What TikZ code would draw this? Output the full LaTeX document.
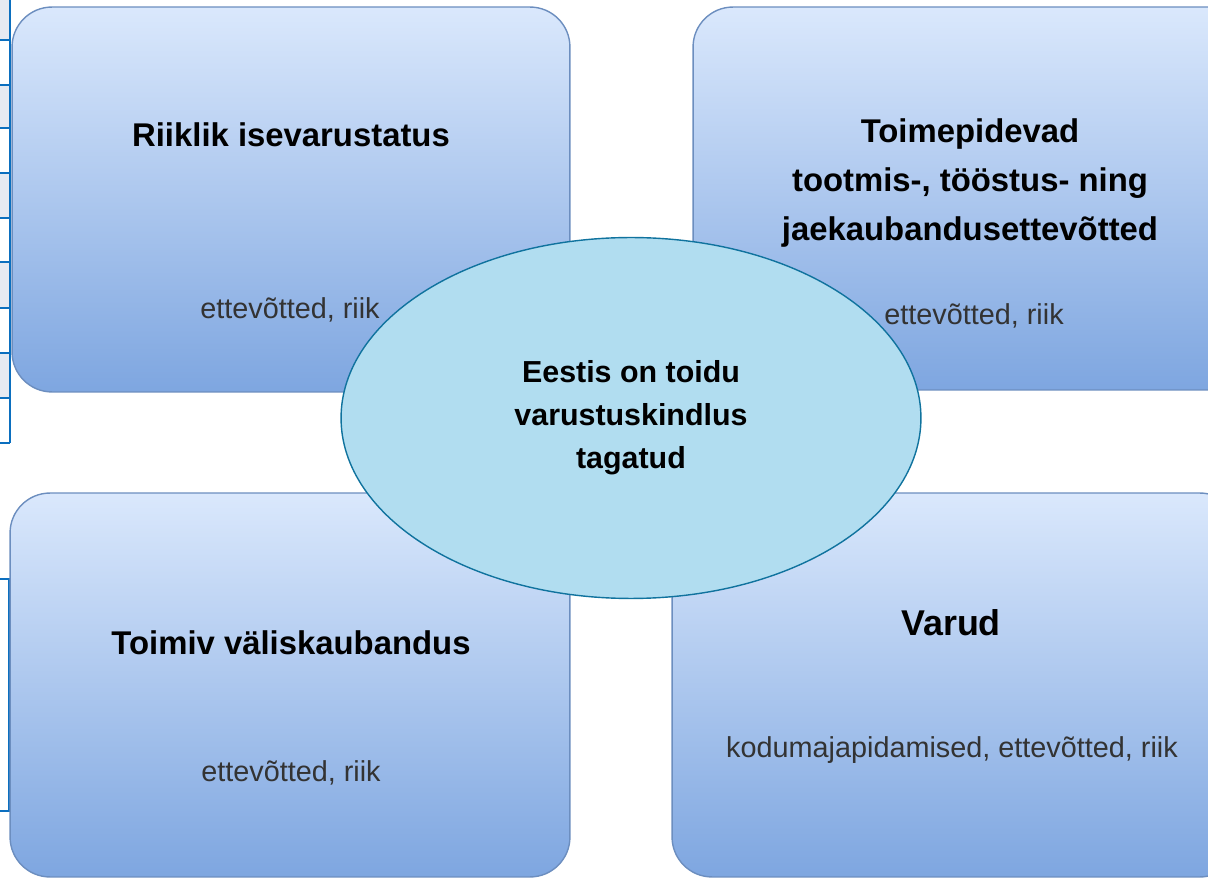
\documentclass[tikz,border=0pt]{standalone}
\usepackage{fontspec}
\setmainfont{Liberation Sans}
\usetikzlibrary{shapes,positioning}
\definecolor{boxtop}{HTML}{DAE8FC}
\definecolor{boxbot}{HTML}{7EA6E0}
\definecolor{boxline}{HTML}{6C8EBF}
\definecolor{ovalfill}{HTML}{B1DDF0}
\definecolor{ovalline}{HTML}{10739E}
\definecolor{tabline}{HTML}{0B6FBF}
\definecolor{tabrow}{HTML}{E6EAF2}
\definecolor{subgray}{HTML}{333333}
\tikzset{
  areabox/.style={draw=boxline, line width=0.8pt, rounded corners=0.8cm,
    top color=boxtop, bottom color=boxbot, inner sep=0pt},
  goal/.style={ellipse, draw=ovalline, line width=0.8pt, fill=ovalfill,
    minimum width=11.6cm, minimum height=7.22cm, inner sep=0pt, align=center,
    font=\bfseries\fontsize{17.3}{24.4}\selectfont},
  areatitle/.style={align=center, font=\bfseries\fontsize{18.7}{28}\selectfont},
  actors/.style={text=subgray, font=\fontsize{16.4}{20}\selectfont}
}

\begin{document}
\begin{tikzpicture}[x=0.02cm,y=-0.02cm]
\useasboundingbox (0,0) rectangle (1208,878);
\clip (0,0) rectangle (1208,878);
\fill[white] (0,0) rectangle (1208,878);

% table edges left of the picture
\foreach \ya/\yb in {0/40,85/128,173/218,262/308,353/398}
  \fill[tabrow] (0,\ya) rectangle (10,\yb);
\foreach \yy in {40,85,128,173,218,262,308,353,398,443}
  \draw[tabline, line width=0.8pt] (0,\yy) -- (10,\yy);
\draw[tabline, line width=0.8pt] (10,0) -- (10,443);
\draw[tabline, line width=0.8pt] (0,579) -- (9,579) -- (9,811) -- (0,811);

% the four areas
\node[areabox, minimum width=11.16cm, minimum height=7.7cm] (riik) at (291,199.5) {};
\node[areabox, minimum width=11.12cm, minimum height=7.66cm] (tootmine) at (971,198.5) {};
\node[areabox, minimum width=11.2cm, minimum height=7.68cm] (kaubandus) at (290,685) {};
\node[areabox, minimum width=11.36cm, minimum height=7.68cm] (varud) at (956,685) {};

\node[actors] (riiksub) at (290,310) {ettevõtted, riik};
\node[actors] (tootminesub) at (974,316) {ettevõtted, riik};
\node[actors] (kaubandussub) at (291,773) {ettevõtted, riik};
\node[actors] (varudsub) at (952,750) {kodumajapidamised, ettevõtted, riik};

% centre
\node[goal] (kindlus) at (631,418) {Eestis on toidu\\varustuskindlus\\tagatud};

\node[areatitle] (riiktitle) at (291,135) {Riiklik isevarustatus};
\node[areatitle] (tootminetitle) at (970,183) {Toimepidevad\\tootmis-, tööstus- ning\\jaekaubandusettevõtted};
\node[areatitle] (kaubandustitle) at (291,643) {Toimiv väliskaubandus};
\node[areatitle, font=\bfseries\fontsize{20.4}{24}\selectfont] (varudtitle) at (951,623) {Varud};
\end{tikzpicture}
\end{document}
